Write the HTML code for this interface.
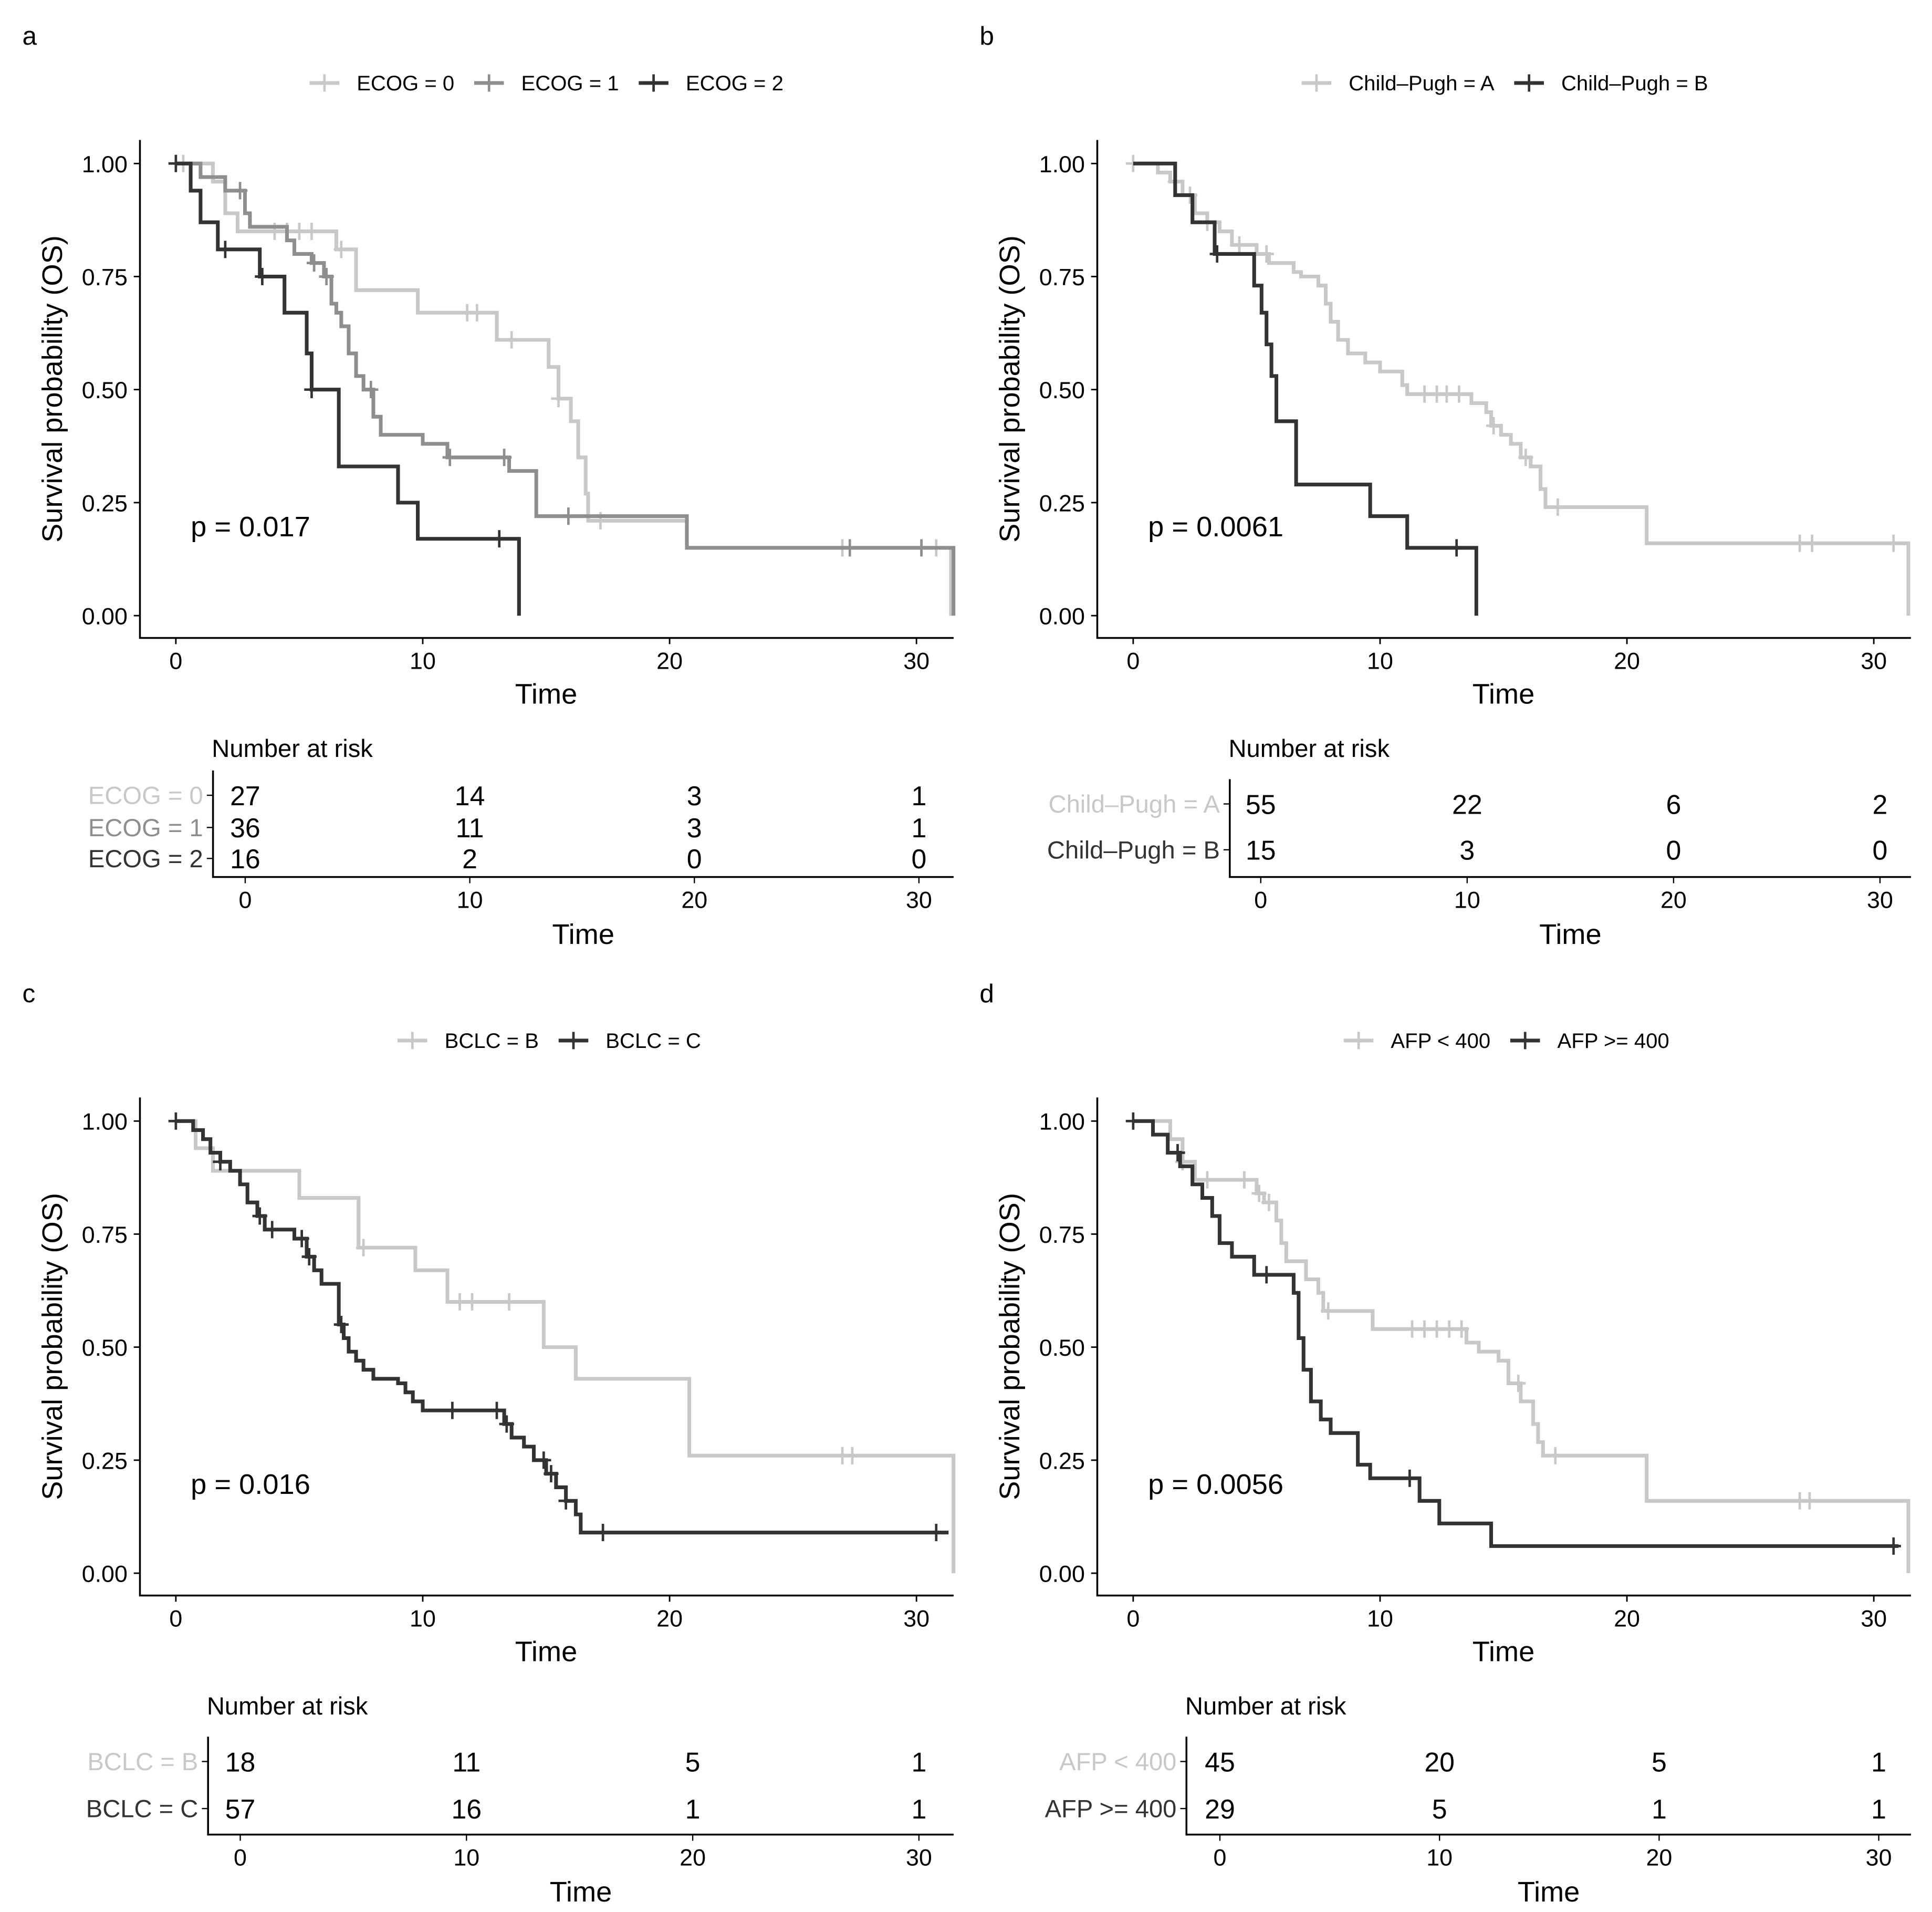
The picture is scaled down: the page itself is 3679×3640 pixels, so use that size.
<!DOCTYPE html>
<html><head><meta charset="utf-8"><style>
html,body{margin:0;padding:0;background:#fff}
svg{display:block;font-family:"Liberation Sans",Arial,sans-serif}
</style></head><body>
<svg id="fig" width="3679" height="3640" viewBox="0 0 1560 1543.5" preserveAspectRatio="none" xmlns="http://www.w3.org/2000/svg"></svg>
<script>
const LIGHT='#c8c8c8', MID='#8e8e8e', DARK='#333333';
// Panel a
const aNames=['ECOG = 0','ECOG = 1','ECOG = 2'];
const aT0=[0,1.5,2,2.5,6.5,7.3,9.8,13,15.1,15.5,16,16.3,16.6,16.7,20.7,31.4];
const aS0=[1,0.96,0.89,0.85,0.81,0.72,0.67,0.61,0.55,0.48,0.43,0.35,0.27,0.21,0.15,0];
const aC0=[0.3,4,4.5,5,5.5,6.7,11.8,12.2,13.6,15.5,17.2,27,30.8];
const aT1=[0,1,2,2.8,3,4.5,4.8,5.5,6,6.3,6.5,6.7,7,7.3,7.6,8,8.3,10,11,13.5,14.6,20.7,31.5];
const aS1=[1,0.97,0.94,0.89,0.86,0.83,0.8,0.78,0.75,0.69,0.67,0.64,0.58,0.53,0.5,0.44,0.4,0.38,0.35,0.32,0.22,0.15,0];
const aC1=[2.6,5.6,6.1,7.9,11.1,13.3,15.9,27.3,30.2];
const aT2=[0,0.6,1,1.7,3.4,4.4,5.3,5.5,6.6,9,9.8,13.9];
const aS2=[1,0.94,0.87,0.81,0.75,0.67,0.58,0.5,0.33,0.25,0.17,0];
const aC2=[0,2,3.5,5.5,13.1];
const aRisk=[[27,14,3,1],[36,11,3,1],[16,2,0,0]];
// Panel b
const bNames=['Child\u2013Pugh = A','Child\u2013Pugh = B'];
const bT0=[0,1,1.5,2,2.5,3,3.5,4,5,5.5,6.5,6.8,7.5,7.8,8,8.3,8.7,9.4,10,10.9,11.1,13.7,14.3,14.5,14.9,15.3,15.7,16.1,16.5,16.7,20.8,31.4];
const bS0=[1,0.98,0.96,0.93,0.89,0.87,0.85,0.82,0.8,0.78,0.76,0.75,0.73,0.69,0.65,0.61,0.58,0.56,0.54,0.51,0.49,0.47,0.45,0.42,0.4,0.38,0.35,0.33,0.28,0.24,0.16,0];
const bC0=[0,1.7,2.3,3,4.3,5.4,11.8,12.3,12.7,13.2,14.6,15.9,17.2,27,27.5,30.8];
const bT1=[0,1.7,2.4,3.3,4.9,5.2,5.4,5.6,5.8,6.6,9.6,11.1,13.9];
const bS1=[1,0.93,0.87,0.8,0.73,0.67,0.6,0.53,0.43,0.29,0.22,0.15,0];
const bC1=[3.4,13.1];
const bRisk=[[55,22,6,2],[15,3,0,0]];
// Panel c
const cNames=['BCLC = B','BCLC = C'];
const cT0=[0,0.8,1.5,5,7.4,9.7,11,14.9,16.2,20.8,31.5];
const cS0=[1,0.94,0.89,0.83,0.72,0.67,0.6,0.5,0.43,0.26,0];
const cC0=[7.6,11.5,12,13.5,27,27.4];
const cT1=[0,0.7,1.1,1.4,1.8,2.2,2.6,2.9,3.3,3.6,4.8,5.3,5.6,5.9,6.6,6.8,7,7.3,7.6,8,9,9.3,9.6,10,13.3,13.6,14.1,14.5,15,15.4,15.8,16.2,16.4,31.3];
const cS1=[1,0.98,0.96,0.93,0.91,0.89,0.86,0.82,0.79,0.76,0.74,0.7,0.67,0.64,0.55,0.52,0.49,0.47,0.45,0.43,0.42,0.4,0.38,0.36,0.33,0.3,0.28,0.25,0.22,0.19,0.16,0.13,0.09,0.09];
const cC1=[0,1.8,3.4,3.9,5.1,5.4,6.7,11.2,13,13.4,14.9,15.2,15.8,17.3,30.8];
const cRisk=[[18,11,5,1],[57,16,1,1]];
// Panel d
const dNames=['AFP < 400','AFP >= 400'];
const dT0=[0,1.5,2,2.5,5,5.3,5.8,6,6.2,7,7.5,7.7,9.7,13.5,14,14.8,15.2,15.7,16.2,16.4,16.6,20.8,31.4];
const dS0=[1,0.96,0.91,0.87,0.84,0.82,0.78,0.73,0.69,0.65,0.62,0.58,0.54,0.51,0.49,0.47,0.42,0.38,0.33,0.29,0.26,0.16,0];
const dC0=[2,3,4.5,5.1,5.5,7.9,11.3,11.8,12.3,12.8,13.3,15.6,17.1,27,27.4];
const dT1=[0,0.8,1.4,1.9,2.4,2.8,3.2,3.5,4,4.9,6.5,6.7,6.9,7.2,7.6,8,9.1,9.6,11.6,12.4,14.5,31];
const dS1=[1,0.97,0.93,0.9,0.86,0.83,0.79,0.73,0.7,0.66,0.62,0.52,0.45,0.38,0.34,0.31,0.24,0.21,0.16,0.11,0.06,0.06];
const dC1=[0,1.8,5.4,11.2,30.8];
const dRisk=[[45,20,5,1],[29,5,1,1]];
const xTicks=[0,10,20,30];
const yTicks=[0,0.25,0.5,0.75,1];
const yTickLabels=['0.00','0.25','0.50','0.75','1.00'];

const svg=document.getElementById('fig');
const NS='http://www.w3.org/2000/svg';
function mk(tag,attrs,parent){const e=document.createElementNS(NS,tag);for(const k in attrs)e.setAttribute(k,attrs[k]);(parent||svg).appendChild(e);return e;}
function txt(s,x,y,size,anchor,fill,parent){const t=mk('text',{x:x,y:y,'font-size':size,'text-anchor':anchor||'start',fill:fill||'#000'},parent);t.textContent=s;return t;}

function panel(P){
  const g=mk('g',{});
  
  
  const ox=P.ox, oy=P.oy;
  const X=t=>ox+142+t*(598/30);
  const Y=s=>oy+497-s*365;
  const lbl=txt(P.letter,ox+18,oy+36,21,'start','#000',g);
  
  
  const lg=mk('g',{},g);
  
  
  let lx=P.legX;
  P.series.forEach((s,i)=>{
    const e=mk('g',{},lg);
    
    
    mk('line',{x1:lx,y1:oy+67,x2:lx+24,y2:oy+67,stroke:s.color,'stroke-width':3},e);
    mk('line',{x1:lx+12,y1:oy+60,x2:lx+12,y2:oy+74,stroke:s.color,'stroke-width':2},e);
    const t=txt(s.name,lx+38,oy+73,17,'start','#000',e);
    lx+=38+t.getComputedTextLength()+16;
  });
  const ax=mk('path',{d:`M${ox+113} ${oy+113}V${oy+515}H${ox+770}`,fill:'none',stroke:'#000','stroke-width':1.5},g);
  
  
  yTicks.forEach((v,i)=>{mk('line',{x1:ox+108,x2:ox+113,y1:Y(v),y2:Y(v),stroke:'#000','stroke-width':1.2},g);
    const t=txt(yTickLabels[i],ox+103,Y(v)+7,19,'end','#000',g);});
  xTicks.forEach(v=>{mk('line',{x1:X(v),x2:X(v),y1:oy+515,y2:oy+520,stroke:'#000','stroke-width':1.2},g);
    const t=txt(String(v),X(v),oy+540,19,'middle','#000',g);});
  const xt=txt('Time',ox+441,oy+568,23,'middle','#000',g);
  const yt=txt('Survival probability (OS)',0,0,23,'middle','#000',g);
  yt.setAttribute('transform',`translate(${ox+50},${oy+314}) rotate(-90)`);
  
  const pv=txt(P.p,ox+154,oy+433,23,'start','#000',g);
  P.series.forEach(s=>{
    let d=`M${X(s.t[0])} ${Y(s.s[0])}`;
    for(let i=1;i<s.t.length;i++){d+=`H${X(s.t[i])}V${Y(s.s[i])}`;}
    const c=mk('path',{d:d,fill:'none',stroke:s.color,'stroke-width':3},g);
    
    
    s.c.forEach(ct=>{
      let sv=s.s[0];for(let i=0;i<s.t.length;i++){if(s.t[i]<=ct)sv=s.s[i];}
      const m=mk('path',{d:`M${X(ct)-6} ${Y(sv)}h12M${X(ct)} ${Y(sv)-7}v14`,stroke:s.color,'stroke-width':2},g);
      
      
    });
  });
  const R=P.risk;
  const rX=t=>R.x0+t*(R.x30-R.x0)/30;
  const rg=mk('g',{},g);
  
  
  txt('Number at risk',R.vx-1,oy+R.titleY,20,'start','#000',rg);
  mk('path',{d:`M${R.vx} ${oy+R.rows[0]-20}V${oy+708}H${ox+770}`,fill:'none',stroke:'#000','stroke-width':1.5},rg);
  P.series.forEach((s,i)=>{
    const ry=oy+R.rows[i];
    txt(s.name,R.vx-8,ry+7,20,'end',s.color,rg);
    mk('line',{x1:R.vx-5,x2:R.vx,y1:ry,y2:ry,stroke:'#000'},rg);
    P.riskVals[i].forEach((v,j)=>{const t=txt(String(v),rX(xTicks[j]),ry+8,22,'middle','#000',rg);});
  });
  xTicks.forEach(v=>{mk('line',{x1:rX(v),x2:rX(v),y1:oy+708,y2:oy+713,stroke:'#000'},rg);txt(String(v),rX(v),oy+733,19,'middle','#000',rg);});
  txt('Time',(R.vx+ox+770)/2,oy+762,23,'middle','#000',rg);
}
panel({letter:'a',ox:0,oy:0,legX:250,p:'p = 0.017',
  series:[{name:aNames[0],t:aT0,s:aS0,c:aC0,color:LIGHT},{name:aNames[1],t:aT1,s:aS1,c:aC1,color:MID},{name:aNames[2],t:aT2,s:aS2,c:aC2,color:DARK}],
  riskVals:aRisk,risk:{x0:198,x30:742,vx:172,rows:[642,668,693],titleY:611}});
panel({letter:'b',ox:773,oy:0,legX:1051,p:'p = 0.0061',
  series:[{name:bNames[0],t:bT0,s:bS0,c:bC0,color:LIGHT},{name:bNames[1],t:bT1,s:bS1,c:bC1,color:DARK}],
  riskVals:bRisk,risk:{x0:1018,x30:1518,vx:993,rows:[649,686],titleY:611}});
panel({letter:'c',ox:0,oy:773,legX:321,p:'p = 0.016',
  series:[{name:cNames[0],t:cT0,s:cS0,c:cC0,color:LIGHT},{name:cNames[1],t:cT1,s:cS1,c:cC1,color:DARK}],
  riskVals:cRisk,risk:{x0:194,x30:742,vx:168,rows:[649,687],titleY:611}});
panel({letter:'d',ox:773,oy:773,legX:1085,p:'p = 0.0056',
  series:[{name:dNames[0],t:dT0,s:dS0,c:dC0,color:LIGHT},{name:dNames[1],t:dT1,s:dS1,c:dC1,color:DARK}],
  riskVals:dRisk,risk:{x0:985,x30:1517,vx:958,rows:[649,687],titleY:611}});
</script>
</body></html>
